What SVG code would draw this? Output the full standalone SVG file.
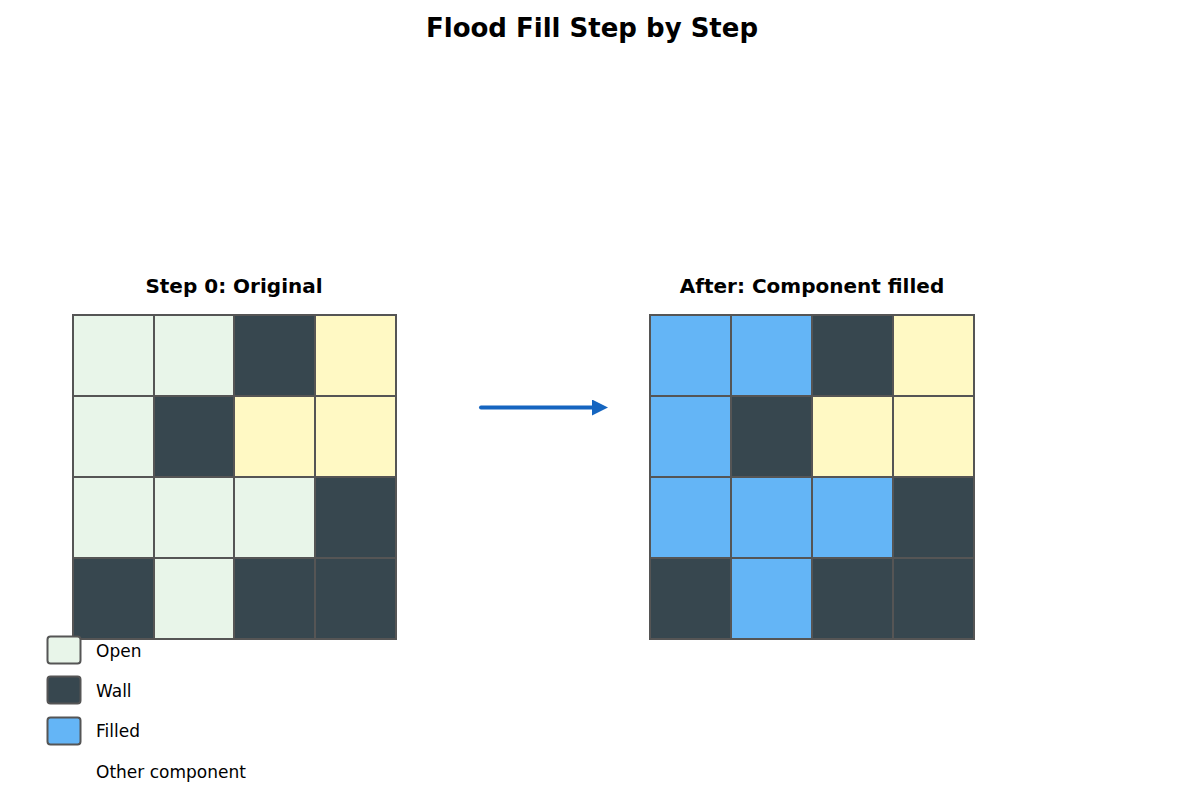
<svg xmlns="http://www.w3.org/2000/svg" width="1185" height="796" viewBox="0 0 1185 796">
<style>
text{font-family:"DejaVu Sans",sans-serif;fill:#000}
.t{font-size:26px;font-weight:bold}
.h{font-size:20px;font-weight:bold}
.l{font-size:17px}
.c{stroke:#555;stroke-width:2}
.o{fill:#E8F5E9}.w{fill:#37474F}.y{fill:#FFF9C4}.b{fill:#64B5F6}
.k{stroke:#555;stroke-width:2}
</style>
<defs><marker id="ah" markerWidth="4" markerHeight="4" refX="2" refY="2" orient="auto" markerUnits="strokeWidth"><path d="M0,0L4,2L0,4Z" fill="#1565C0"/></marker></defs>
<rect width="1185" height="796" fill="#fff"/>
<text class="t" x="592" y="37" text-anchor="middle">Flood Fill Step by Step</text>
<g id="grid-original">
<text class="h" x="234" y="293" text-anchor="middle">Step 0: Original</text>
<g class="c">
<rect class="o" x="73" y="315" width="81" height="81"/><rect class="o" x="154" y="315" width="80" height="81"/><rect class="w" x="234" y="315" width="81" height="81"/><rect class="y" x="315" y="315" width="81" height="81"/>
<rect class="o" x="73" y="396" width="81" height="81"/><rect class="w" x="154" y="396" width="80" height="81"/><rect class="y" x="234" y="396" width="81" height="81"/><rect class="y" x="315" y="396" width="81" height="81"/>
<rect class="o" x="73" y="477" width="81" height="81"/><rect class="o" x="154" y="477" width="80" height="81"/><rect class="o" x="234" y="477" width="81" height="81"/><rect class="w" x="315" y="477" width="81" height="81"/>
<rect class="w" x="73" y="558" width="81" height="81"/><rect class="o" x="154" y="558" width="80" height="81"/><rect class="w" x="234" y="558" width="81" height="81"/><rect class="w" x="315" y="558" width="81" height="81"/>
</g></g>
<g id="grid-after">
<text class="h" x="812" y="293" text-anchor="middle">After: Component filled</text>
<g class="c">
<rect class="b" x="650" y="315" width="81" height="81"/><rect class="b" x="731" y="315" width="81" height="81"/><rect class="w" x="812" y="315" width="81" height="81"/><rect class="y" x="893" y="315" width="81" height="81"/>
<rect class="b" x="650" y="396" width="81" height="81"/><rect class="w" x="731" y="396" width="81" height="81"/><rect class="y" x="812" y="396" width="81" height="81"/><rect class="y" x="893" y="396" width="81" height="81"/>
<rect class="b" x="650" y="477" width="81" height="81"/><rect class="b" x="731" y="477" width="81" height="81"/><rect class="b" x="812" y="477" width="81" height="81"/><rect class="w" x="893" y="477" width="81" height="81"/>
<rect class="w" x="650" y="558" width="81" height="81"/><rect class="b" x="731" y="558" width="81" height="81"/><rect class="w" x="812" y="558" width="81" height="81"/><rect class="w" x="893" y="558" width="81" height="81"/>
</g></g>
<g id="connectors">
<line x1="481" y1="407.5" x2="600" y2="407.5" stroke="#1565C0" stroke-width="4" stroke-linecap="round" marker-end="url(#ah)"/>
</g>
<g id="legend">
<rect class="o k" x="47.5" y="636.5" width="33" height="27" rx="3"/><text class="l" x="96" y="657">Open</text>
<rect class="w k" x="47.5" y="676.5" width="33" height="27" rx="3"/><text class="l" x="96" y="697">Wall</text>
<rect class="b k" x="47.5" y="717.5" width="33" height="27" rx="3"/><text class="l" x="96" y="737">Filled</text>
<text class="l" x="96" y="778">Other component</text>
</g>
</svg>
